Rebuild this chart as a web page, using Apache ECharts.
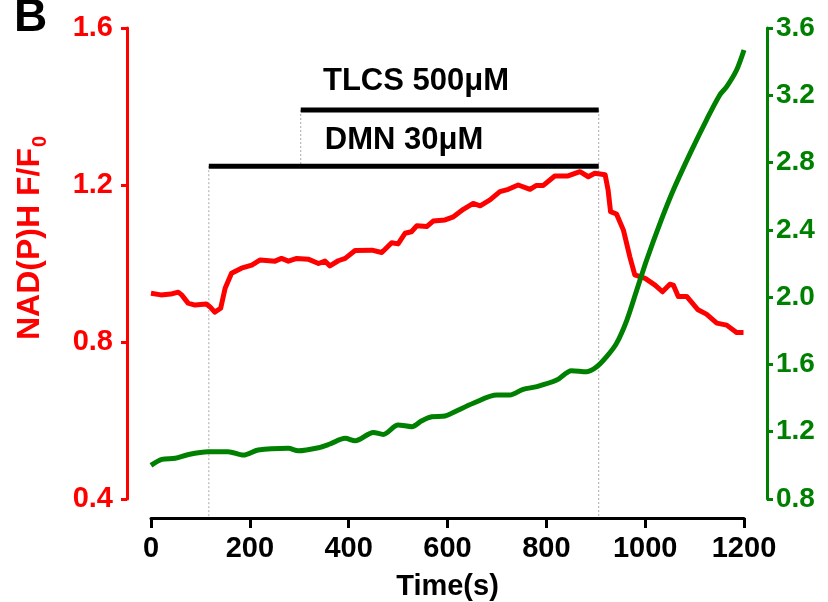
<!DOCTYPE html>
<html>
<head>
<meta charset="utf-8">
<script src="https://cdn.jsdelivr.net/npm/echarts@6/dist/echarts.min.js"></script>
<style>
  html, body { margin: 0; padding: 0; background: #fff; }
  #chart { width: 828px; height: 602px; }
</style>
</head>
<body>
<div id="chart"></div>
<script>
// NAD(P)H F/F0 trace (left axis)
const nadTime = [0, 20, 40, 55, 62, 75, 89, 112, 119, 129, 141, 150, 163, 183, 204, 221, 251, 264, 278, 295,
  318, 339, 352, 362, 379, 393, 413, 447, 467, 487, 500, 514, 527, 538, 558, 571, 595, 612, 632, 652,
  666, 686, 706, 723, 743, 767, 780, 794, 817, 844, 868, 885, 898, 919, 925, 930, 942, 956, 969, 979,
  1000, 1020, 1035, 1050, 1057, 1067, 1084, 1107, 1124, 1145, 1165, 1185, 1199];
const nadRatio = [0.924, 0.920, 0.922, 0.927, 0.920, 0.899, 0.894, 0.897, 0.890, 0.876, 0.886, 0.937, 0.975, 0.988, 0.996, 1.009, 1.006, 1.013, 1.006, 1.013,
  1.011, 1.000, 1.006, 0.994, 1.007, 1.013, 1.033, 1.034, 1.028, 1.053, 1.050, 1.077, 1.081, 1.096, 1.094, 1.108, 1.111, 1.119, 1.138, 1.153,
  1.147, 1.162, 1.183, 1.189, 1.200, 1.189, 1.199, 1.199, 1.223, 1.223, 1.234, 1.221, 1.230, 1.226, 1.187, 1.132, 1.126, 1.085, 1.017, 0.971,
  0.962, 0.945, 0.928, 0.947, 0.945, 0.916, 0.916, 0.882, 0.871, 0.848, 0.843, 0.824, 0.824];

// green trace (right axis)
const greenTime = [0, 22, 49, 76, 116, 156, 187, 217, 278, 298, 339, 362, 393, 413, 450, 470, 500, 528, 548, 568,
  595, 615, 652, 700, 726, 753, 781, 821, 851, 882, 902, 922, 942, 963, 983, 1003, 1030, 1057, 1091, 1124,
  1151, 1165, 1185, 1200];
const greenValue = [1.000, 1.036, 1.042, 1.065, 1.081, 1.081, 1.061, 1.091, 1.101, 1.087, 1.105, 1.127, 1.161, 1.146, 1.196, 1.184, 1.240, 1.230, 1.265, 1.289,
  1.293, 1.319, 1.369, 1.418, 1.418, 1.452, 1.468, 1.507, 1.563, 1.557, 1.586, 1.646, 1.725, 1.864, 2.042, 2.221, 2.439, 2.637, 2.855, 3.053,
  3.202, 3.251, 3.350, 3.469];

// treatment periods (start, end in s) and the left-axis level of each bar
const dmnPeriod = [117, 906];
const tlcsPeriod = [303, 906];
const dmnLevel = 1.248;
const tlcsLevel = 1.391;
const axisFloor = 0.352;   // where the dotted guides stop (x-axis line)

const xTicks = [0, 200, 400, 600, 800, 1000, 1200];
const leftTicks = [0.4, 0.8, 1.2, 1.6];
const rightTicks = [0.8, 1.2, 1.6, 2.0, 2.4, 2.8, 3.2, 3.6];

const zip = (a, b) => a.map((v, i) => [v, b[i]]);

const sans = "'Liberation Sans', Arial, sans-serif";

const chart = echarts.init(document.getElementById('chart'));

const guide = (pts) => ({
    type: 'line', data: pts, symbol: 'none', silent: true, clip: false, z: 1,
    lineStyle: { color: '#aaaaaa', width: 1, type: [2, 2] }
});
const bar = (pts) => ({
    type: 'line', data: pts, symbol: 'none', silent: true, clip: false, z: 3,
    lineStyle: { color: '#000', width: 5, cap: 'butt' }
});

chart.setOption({
    animation: false,
    backgroundColor: '#fff',
    grid: { left: 151, right: 84, top: 28, bottom: 103, outerBoundsMode: 'none', containLabel: false },
    xAxis: {
        type: 'value',
        min: xTicks[0], max: xTicks[xTicks.length - 1], interval: 200,
        offset: 19,
        name: 'Time(s)',
        nameLocation: 'middle',
        nameGap: 54,
        nameTextStyle: { color: '#000', fontFamily: sans, fontWeight: 'bold', fontSize: 29 },
        axisLine: { onZero: false, lineStyle: { color: '#000', width: 3 } },
        axisTick: { length: 10, lineStyle: { color: '#000', width: 3 } },
        axisLabel: { color: '#000', fontFamily: sans, fontWeight: 'bold', fontSize: 29, margin: 16,
            formatter: v => String(v) },
        splitLine: { show: false }
    },
    yAxis: [
        {
            type: 'value', position: 'left',
            min: leftTicks[0], max: leftTicks[leftTicks.length - 1], interval: 0.4,
            offset: 24,
            axisLine: { show: true, onZero: false, lineStyle: { color: '#ff0000', width: 3 } },
            axisTick: { show: true, length: 6, lineStyle: { color: '#ff0000', width: 3 } },
            axisLabel: {
                color: '#ff0000', fontFamily: sans, fontWeight: 'bold', fontSize: 29, margin: 14,
                formatter: v => v.toFixed(1)
            },
            splitLine: { show: false }
        },
        {
            type: 'value', position: 'right',
            min: rightTicks[0], max: rightTicks[rightTicks.length - 1], interval: 0.4,
            offset: 23,
            axisLine: { show: true, onZero: false, lineStyle: { color: '#008000', width: 3 } },
            axisTick: { show: true, length: 6, lineStyle: { color: '#008000', width: 3 } },
            axisLabel: {
                color: '#008000', fontFamily: sans, fontWeight: 'bold', fontSize: 28, margin: 9,
                formatter: v => v.toFixed(1)
            },
            splitLine: { show: false }
        }
    ],
    series: [
        guide([[dmnPeriod[0], dmnLevel], [dmnPeriod[0], axisFloor]]),
        guide([[tlcsPeriod[0], tlcsLevel], [tlcsPeriod[0], dmnLevel]]),
        guide([[tlcsPeriod[1], tlcsLevel], [tlcsPeriod[1], axisFloor]]),
        bar([[dmnPeriod[0], dmnLevel], [dmnPeriod[1], dmnLevel]]),
        bar([[tlcsPeriod[0], tlcsLevel], [tlcsPeriod[1], tlcsLevel]]),
        {
            name: 'NAD(P)H', type: 'line', yAxisIndex: 0,
            data: zip(nadTime, nadRatio),
            symbol: 'none', z: 4,
            lineStyle: { color: '#ff0000', width: 5, join: 'round' }
        },
        {
            name: 'green', type: 'line', yAxisIndex: 1,
            data: zip(greenTime, greenValue),
            symbol: 'none', smooth: 0.3, z: 4,
            lineStyle: { color: '#008000', width: 5, join: 'round' }
        }
    ],
    graphic: [
        {
            type: 'text', left: 14, top: -5,
            style: { text: 'B', fill: '#000', font: 'bold 46px ' + sans }
        },
        {
            type: 'text', x: 30, y: 238, rotation: Math.PI / 2,
            style: {
                text: '{m|NAD(P)H F/F}{s|0}',
                align: 'center', verticalAlign: 'middle',
                rich: {
                    m: { fill: '#ff0000', fontFamily: sans, fontWeight: 'bold', fontSize: 32, lineHeight: 40 },
                    s: { fill: '#ff0000', fontFamily: sans, fontWeight: 'bold', fontSize: 20, lineHeight: 40, verticalAlign: 'bottom', padding: [14, 0, 0, 1] }
                }
            }
        },
        {
            type: 'text', x: 416, y: 81,
            style: { text: 'TLCS 500\u03bcM', fill: '#000', font: 'bold 31px ' + sans, align: 'center', verticalAlign: 'middle' }
        },
        {
            type: 'text', x: 404, y: 140,
            style: { text: 'DMN 30\u03bcM', fill: '#000', font: 'bold 31px ' + sans, align: 'center', verticalAlign: 'middle' }
        }
    ]
});
</script>
</body>
</html>
